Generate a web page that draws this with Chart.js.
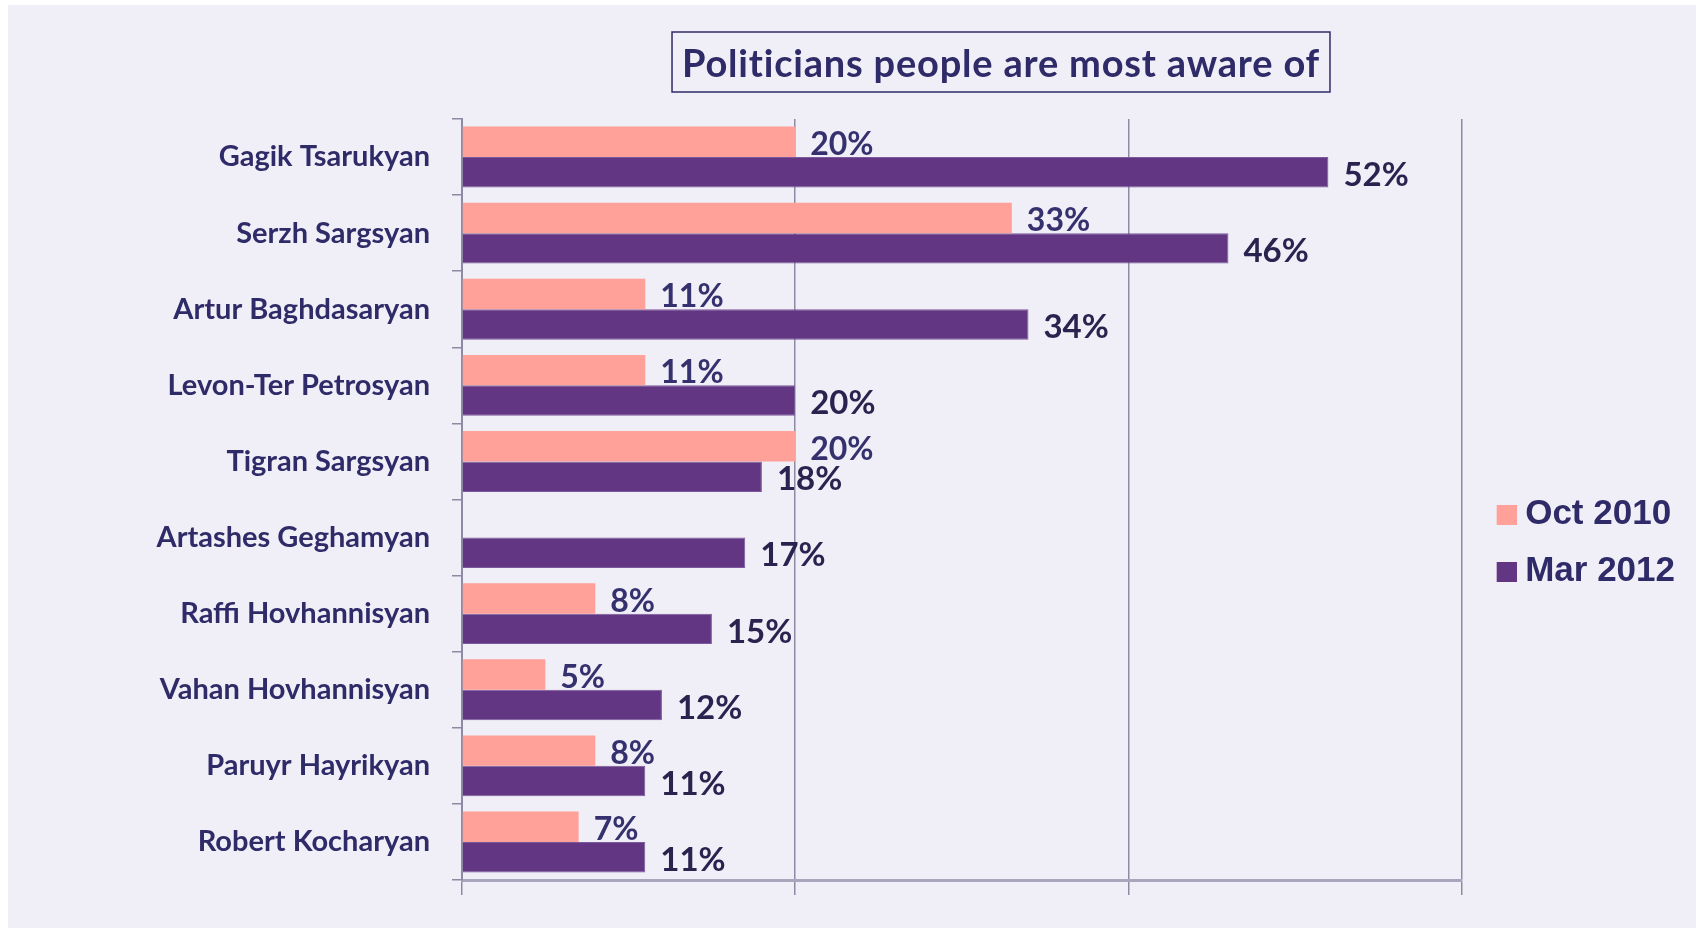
<!DOCTYPE html>
<html>
<head>
    <title>Politicians people are most aware of</title>
    <script src="https://cdn.jsdelivr.net/npm/chart.js"></script>
    <style>
        body { margin: 0; background: #ffffff; }
    </style>
</head>
<body>
    <canvas id="awareChart" width="1696" height="928"></canvas>
    <script>
        // data
        const politicians = ['Gagik Tsarukyan', 'Serzh Sargsyan', 'Artur Baghdasaryan', 'Levon-Ter Petrosyan',
            'Tigran Sargsyan', 'Artashes Geghamyan', 'Raffi Hovhannisyan', 'Vahan Hovhannisyan',
            'Paruyr Hayrikyan', 'Robert Kocharyan'];
        const oct2010 = [20, 33, 11, 11, 20, null, 8, 5, 8, 7];
        const mar2012 = [52, 46, 34, 20, 18, 17, 15, 12, 11, 11];
        const seriesNames = ['Oct 2010', 'Mar 2012'];
        const seriesColors = ['#FFA199', '#623682'];
        const titleText = 'Politicians people are most aware of';

        const navy = '#2F2B68';
        const gridGrey = '#8E8AA4';

        // legend swatch: a small canvas with the square pushed to its right edge,
        // so the gap to the label text is narrower than chart.js' default
        function swatch(color) {
            const c = document.createElement('canvas');
            c.width = 42;
            c.height = 20;
            const g = c.getContext('2d');
            g.fillStyle = color;
            g.fillRect(22, 0, 20, 20);
            return c;
        }

        // lavender slide background
        const bgPlugin = {
            id: 'bg',
            beforeDraw(chart) {
                const ctx = chart.ctx;
                ctx.save();
                ctx.fillStyle = '#F0EEF6';
                ctx.fillRect(8, 5, chart.width - 8, chart.height - 5);
                ctx.restore();
            }
        };

        // boxed title
        const titlePlugin = {
            id: 'boxTitle',
            afterDraw(chart) {
                const ctx = chart.ctx;
                ctx.save();
                ctx.font = 'bold 38px Lato';
                ctx.letterSpacing = '0.8px';
                const w = ctx.measureText(titleText).width;
                const cx = 1001;
                ctx.strokeStyle = navy;
                ctx.lineWidth = 1.5;
                ctx.strokeRect(cx - w / 2 - 10, 32, w + 20, 60);
                ctx.fillStyle = navy;
                ctx.textAlign = 'center';
                ctx.textBaseline = 'middle';
                ctx.fillText(titleText, cx, 65);
                ctx.restore();
            }
        };

        // percentage labels at the end of each bar
        const valueLabels = {
            id: 'valueLabels',
            afterDatasetsDraw(chart) {
                const ctx = chart.ctx;
                ctx.save();
                ctx.textAlign = 'left';
                ctx.textBaseline = 'middle';
                chart.data.datasets.forEach((ds, i) => {
                    const meta = chart.getDatasetMeta(i);
                    ctx.font = i === 0 ? 'bold 32px Lato' : 'bold 33px Lato';
                    ctx.fillStyle = i === 0 ? '#35306E' : '#29234F';
                    meta.data.forEach((bar, j) => {
                        const v = ds.data[j];
                        if (v === null || v === undefined) return;
                        ctx.fillText(v + '%', bar.x + 15, bar.y + 3);
                    });
                });
                ctx.restore();
            }
        };

        const ctx = document.getElementById('awareChart').getContext('2d');
        new Chart(ctx, {
            type: 'bar',
            data: {
                labels: politicians,
                datasets: [{
                    label: seriesNames[0],
                    data: oct2010,
                    backgroundColor: seriesColors[0],
                    borderWidth: 0,
                    pointStyle: swatch(seriesColors[0])
                }, {
                    label: seriesNames[1],
                    data: mar2012,
                    backgroundColor: seriesColors[1],
                    borderColor: '#7A5A9C',
                    borderWidth: 1,
                    pointStyle: swatch(seriesColors[1])
                }]
            },
            options: {
                indexAxis: 'y',
                responsive: false,
                animation: false,
                layout: {
                    padding: { top: 119, right: 11, bottom: 33, left: 0 }
                },
                datasets: {
                    bar: { barPercentage: 1.0, categoryPercentage: 0.8 }
                },
                scales: {
                    x: {
                        min: 0,
                        max: 60,
                        ticks: { display: false, stepSize: 20 },
                        grid: { color: gridGrey, lineWidth: 1.5, tickLength: 15 },
                        border: { color: '#A9A5BC', width: 3 }
                    },
                    y: {
                        afterFit(scale) { scale.width = 462; },
                        ticks: {
                            color: navy,
                            font: { family: 'Lato', size: 29, weight: 'bold' },
                            padding: 22
                        },
                        grid: {
                            offset: true,
                            drawOnChartArea: false,
                            color: gridGrey,
                            lineWidth: 1.5,
                            tickLength: 10
                        },
                        border: { color: gridGrey, width: 2 }
                    }
                },
                plugins: {
                    legend: {
                        position: 'right',
                        align: 'start',
                        title: { display: true, text: '', padding: { top: 355, bottom: 0 }, font: { size: 1 } },
                        labels: {
                            color: navy,
                            usePointStyle: true,
                            pointStyleWidth: 24,
                            boxHeight: 20,
                            padding: 22,
                            font: { family: 'Liberation Sans', size: 35, weight: 'bold' }
                        }
                    },
                    tooltip: { enabled: false }
                }
            },
            plugins: [bgPlugin, valueLabels, titlePlugin]
        });
    </script>
</body>
</html>
